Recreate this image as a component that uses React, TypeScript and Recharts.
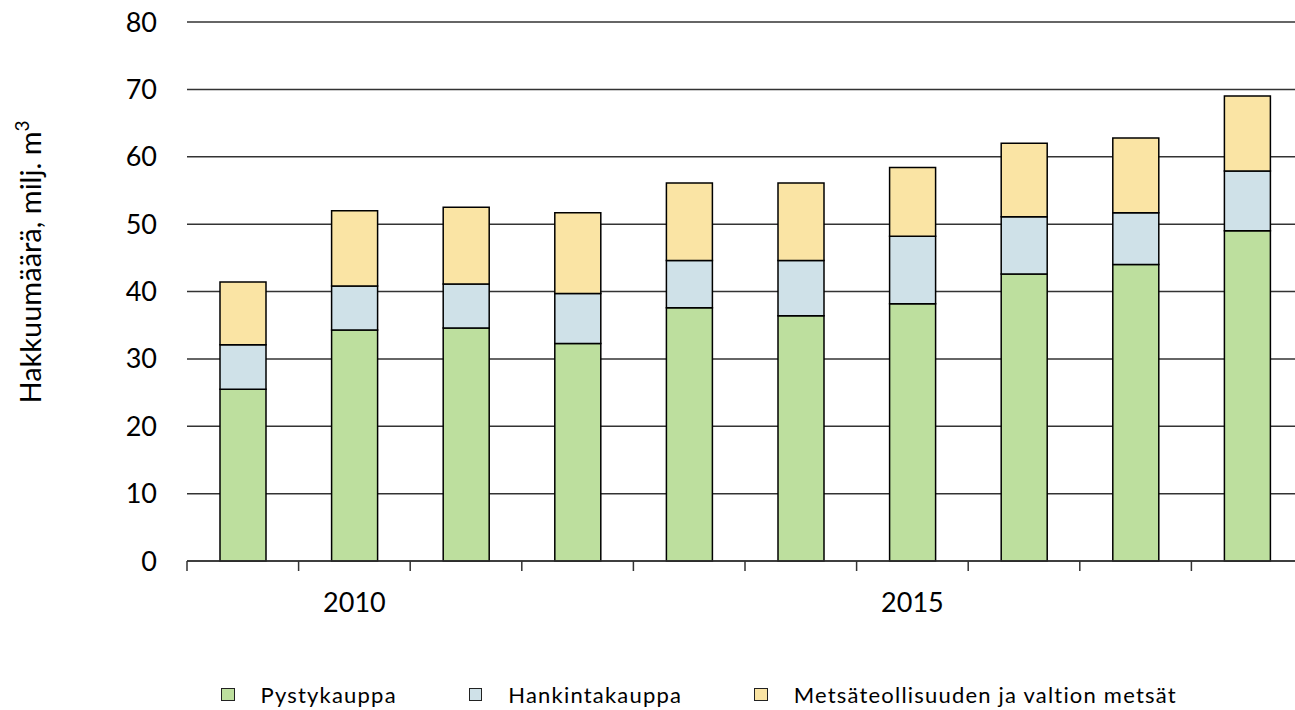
import React from "react";
import { BarChart, Bar, XAxis, YAxis, CartesianGrid, Legend } from "recharts";

const years = [2009, 2010, 2011, 2012, 2013, 2014, 2015, 2016, 2017, 2018];
const pystykauppa = [25.5, 34.3, 34.6, 32.3, 37.6, 36.4, 38.2, 42.6, 44.0, 49.0];
const hankintakauppa = [6.6, 6.5, 6.5, 7.4, 7.0, 8.2, 10.0, 8.5, 7.7, 8.9];
const metsateollisuus = [9.3, 11.2, 11.4, 12.0, 11.5, 11.5, 10.2, 10.9, 11.1, 11.1];
const yTicks = [0, 10, 20, 30, 40, 50, 60, 70, 80];
const labelledYears = [2010, 2015];

const seriesNames = ["Pystykauppa", "Hankintakauppa", "Metsäteollisuuden ja valtion metsät"];
const colors = ["#bddf9e", "#cfe1e8", "#fae4a4"];

const data = years.map((y, i) => ({
  year: y,
  pysty: pystykauppa[i],
  hankinta: hankintakauppa[i],
  metsa: metsateollisuus[i],
}));

const FONT = "Lato, 'Open Sans', sans-serif";

function XTick(props: any) {
  const { x, y, payload } = props;
  const half = payload.offset || 55.8;
  return (
    <g>
      <line x1={x - half} y1={y} x2={x - half} y2={y + 10} stroke="#333" strokeWidth={1.5} />
      {labelledYears.includes(payload.value) && (
        <text x={x} y={y + 51} textAnchor="middle" fontSize={27} fontFamily={FONT} fill="#000">
          {payload.value}
        </text>
      )}
    </g>
  );
}

function LegendContent() {
  return (
    <div style={{ display: "flex", paddingLeft: 221, fontFamily: FONT, fontSize: 22, letterSpacing: 1.2 }}>
      {seriesNames.map((name, i) => (
        <div key={name} style={{ display: "flex", alignItems: "center", marginRight: i < 2 ? 72 : 0 }}>
          <span
            style={{
              display: "inline-block",
              width: 11.5,
              height: 11.5,
              background: colors[i],
              border: "1.5px solid #222",
              marginRight: 26,
            }}
          />
          <span>{name}</span>
        </div>
      ))}
    </div>
  );
}

export default function App() {
  return (
    <div style={{ width: 1295, height: 710, overflow: "hidden", position: "relative" }}>
      <style>{`body{margin:0}`}</style>
      <BarChart width={1303} height={710} data={data} margin={{ top: 22, right: 0, bottom: 0, left: 0 }}>
        <CartesianGrid vertical={false} stroke="#333" strokeWidth={1.5} />
        <XAxis
          dataKey="year"
          height={149}
          tickLine={false}
          tickSize={0}
          tickMargin={0}
          axisLine={{ stroke: "#333", strokeWidth: 1.5 }}
          tick={<XTick />}
          interval={0}
        />
        <YAxis
          width={187}
          domain={[0, 80]}
          ticks={yTicks}
          axisLine={false}
          tickLine={false}
          tickSize={0}
          tickMargin={30}
          tick={{ fontSize: 27, fontFamily: FONT, fill: "#000" }}
          label={{
            content: () => (
              <text
                x={0}
                y={0}
                transform="translate(41, 262) rotate(-90)"
                textAnchor="middle"
                fontSize={29}
                fontFamily={FONT}
                fill="#000"
              >
                Hakkuumäärä, milj. m
                <tspan fontSize={19} dy={-12}>3</tspan>
              </text>
            ),
          }}
        />
        <Legend
          layout="horizontal"
          verticalAlign="middle"
          align="center"
          wrapperStyle={{ top: 681, left: 0, width: 1295 }}
          content={<LegendContent />}
        />
        <Bar dataKey="pysty" stackId="a" fill={colors[0]} stroke="#000" strokeWidth={1.5} barSize={46} isAnimationActive={false} />
        <Bar dataKey="hankinta" stackId="a" fill={colors[1]} stroke="#000" strokeWidth={1.5} barSize={46} isAnimationActive={false} />
        <Bar dataKey="metsa" stackId="a" fill={colors[2]} stroke="#000" strokeWidth={1.5} barSize={46} isAnimationActive={false} />
      </BarChart>
    </div>
  );
}
